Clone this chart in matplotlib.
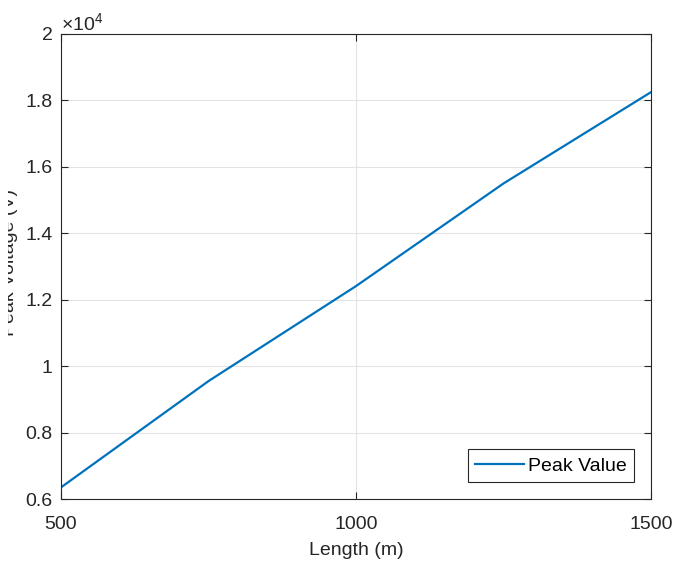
import matplotlib.pyplot as plt
from matplotlib.ticker import FuncFormatter
from matplotlib.transforms import Bbox, TransformedBbox

# Data
length = [500, 750, 1000, 1250, 1500]
peak = [6350, 9550, 12410, 15500, 18250]
x_ticks = [500, 1000, 1500]
y_ticks = [6000, 8000, 10000, 12000, 14000, 16000, 18000, 20000]

plt.rcParams['font.family'] = ['Liberation Sans', 'DejaVu Sans']
plt.rcParams['mathtext.fontset'] = 'custom'
plt.rcParams['mathtext.rm'] = 'Liberation Sans'
plt.rcParams['mathtext.it'] = 'Liberation Sans'

fs = 14

fig = plt.figure(figsize=(6.84, 5.61), dpi=100)
ax = fig.add_axes([61 / 684, 1 - 499 / 561, 590 / 684, 465 / 561])

ax.plot(length, peak, color='#0072BD', linewidth=1.6, label='Peak Value')

ax.set_xlim(500, 1500)
ax.set_ylim(6000, 20000)
ax.set_xticks(x_ticks)
ax.set_yticks(y_ticks)
ax.yaxis.set_major_formatter(FuncFormatter(lambda v, p: '%g' % (v / 1e4)))

ax.grid(True, color='#e3e3e3', linewidth=0.8)
ax.set_axisbelow(True)
for s in ax.spines.values():
    s.set_color('#262626')
    s.set_linewidth(0.8)
ax.tick_params(direction='in', length=5, width=0.8, colors='#262626',
               labelsize=fs, top=True, right=True)
ax.tick_params(axis='x', pad=12)
ax.tick_params(axis='y', pad=6)

ax.set_xlabel('Length (m)', fontsize=fs, color='#262626', labelpad=7)

# y label partly cut off at the left edge, as in the original export
yl = fig.text(10 / 684, 1 - 262 / 561, 'Peak Voltage (V)', rotation=90,
              ha='center', va='center', fontsize=fs, color='#262626')
yl.set_clip_box(TransformedBbox(Bbox([[8 / 684, 0], [1, 1]]), fig.transFigure))
yl.set_clip_on(True)

ax.text(0.0, 1.0, r'$\times10^{4}$', transform=ax.transAxes,
        fontsize=fs, color='#262626', ha='left', va='bottom')

leg = ax.legend(loc='lower right', fontsize=fs, fancybox=False,
                framealpha=1, edgecolor='#262626', borderaxespad=0.85,
                handlelength=2.5, borderpad=0.4, handletextpad=0.2)
leg.get_frame().set_linewidth(0.8)

fig.savefig('out.png', dpi=100)
